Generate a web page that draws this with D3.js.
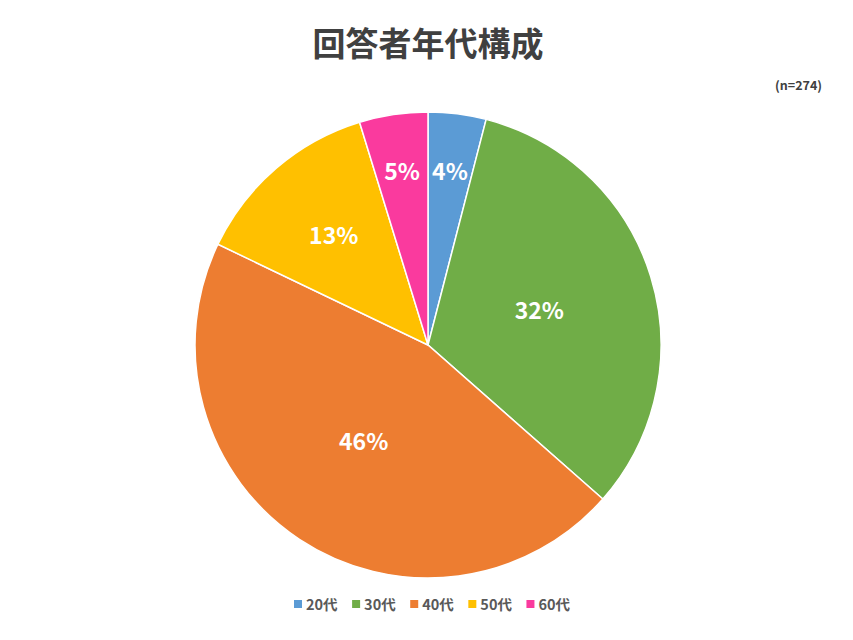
<!DOCTYPE html>
<html>
<head>
<meta charset="utf-8">
<script src="https://cdn.jsdelivr.net/npm/d3@7"></script>
<style>
  body { margin: 0; background: #fff; }
  text { font-family: "Noto Sans CJK JP", "Noto Sans", sans-serif; }
</style>
</head>
<body>
<svg id="chart" width="853" height="640"></svg>
<script>
// データ
const categories = ["20代", "30代", "40代", "50代", "60代"];
const counts = [11, 89, 125, 36, 13];
const colors = ["#5B9BD5", "#70AD47", "#ED7D31", "#FFC000", "#FA3A9E"];
const total = 274;

const svg = d3.select("#chart");
const width = 853, height = 640;
const cx = 428, cy = 345, radius = 233;

// タイトル
svg.append("text")
    .attr("x", cx)
    .attr("y", 56)
    .attr("text-anchor", "middle")
    .attr("font-size", 33)
    .attr("font-weight", 700)
    .attr("fill", "#404040")
    .text("回答者年代構成");

svg.append("text")
    .attr("x", 822)
    .attr("y", 90)
    .attr("text-anchor", "end")
    .attr("font-size", 12.5)
    .attr("font-weight", 700)
    .attr("fill", "#404040")
    .text(`(n=${total})`);

const pie = d3.pie().sort(null).value(d => d.value);
const arcs = pie(categories.map((c, i) => ({ name: c, value: counts[i], color: colors[i] })));
const arc = d3.arc().innerRadius(0).outerRadius(radius);

const g = svg.append("g").attr("transform", `translate(${cx},${cy})`);

g.selectAll("path")
    .data(arcs)
    .join("path")
    .attr("d", arc)
    .attr("fill", d => d.data.color)
    .attr("stroke", "#fff")
    .attr("stroke-width", 1.5);

// 小さいスライスはラベルを外側寄りに置く
function labelRadius(d) {
    const frac = d.data.value / total;
    if (frac < 0.1) return radius * 0.75;
    if (frac < 0.2) return radius * 0.62;
    return radius * 0.5;
}

g.selectAll("text.lbl")
    .data(arcs)
    .join("text")
    .attr("class", "lbl")
    .attr("transform", d => {
        const a = (d.startAngle + d.endAngle) / 2;
        const r = labelRadius(d);
        return `translate(${Math.sin(a) * r},${-Math.cos(a) * r})`;
    })
    .attr("text-anchor", "middle")
    .attr("dy", "0.36em")
    .attr("font-size", 23)
    .attr("font-weight", 700)
    .attr("fill", "#fff")
    .text(d => d3.format(".0%")(d.data.value / total));

// 凡例
const legend = svg.append("g").attr("transform", "translate(0,605)");
let lx = 0;
const items = legend.selectAll("g")
    .data(categories)
    .join("g");
items.append("rect")
    .attr("width", 8)
    .attr("height", 8)
    .attr("y", -5)
    .attr("fill", (d, i) => colors[i]);
items.append("text")
    .attr("x", 12)
    .attr("y", 0)
    .attr("dy", "0.33em")
    .attr("font-size", 14.5)
    .attr("font-weight", 700)
    .attr("fill", "#595959")
    .text(d => d);
const widths = [];
items.each(function () { widths.push(this.getBBox().width); });
const gap = 14;
const totalW = d3.sum(widths) + gap * (widths.length - 1);
lx = 294;
items.attr("transform", (d, i) => {
    const x = lx;
    lx += widths[i] + gap;
    return `translate(${x},0)`;
});
</script>
</body>
</html>
